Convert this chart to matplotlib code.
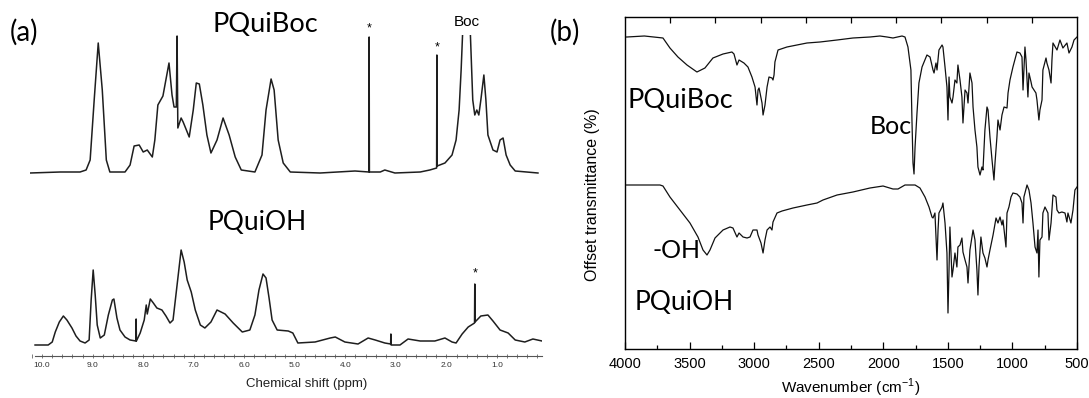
import numpy as np
import matplotlib
matplotlib.use('Agg')
import matplotlib.pyplot as plt
from matplotlib.ticker import MultipleLocator, FormatStrFormatter

# ---- (a) 1H NMR, chemical shift (ppm) vs intensity (arb.) ----
nmr_boc_ppm = [10.24, 9.64, 9.25, 9.13, 9.05, 8.97, 8.89, 8.81, 8.73, 8.66, 8.36, 8.26, 8.18,
               8.08, 8.00, 7.92, 7.82, 7.77, 7.71, 7.61, 7.49, 7.43, 7.39, 7.345, 7.33, 7.315,
               7.25, 7.21, 7.09, 7.01, 6.95, 6.89, 6.82, 6.74, 6.66, 6.54, 6.42, 6.30, 6.18,
               6.06, 5.79, 5.65, 5.57, 5.47, 5.41, 5.33, 5.23, 5.09, 4.50, 3.81, 3.535, 3.53,
               3.525, 3.31, 3.22, 3.02, 2.52, 2.33, 2.195, 2.19, 2.185, 2.03, 1.89, 1.81, 1.75,
               1.71, 1.67, 1.61, 1.53, 1.48, 1.44, 1.40, 1.36, 1.32, 1.26, 1.22, 1.18, 1.08,
               1.00, 0.94, 0.88, 0.82, 0.74, 0.64, 0.19]
nmr_boc_int = [0, 1, 1, 3, 13, 73, 130, 83, 13, 1, 1, 8, 27,
               28, 21, 23, 16, 33, 68, 77, 110, 78, 66, 66, 137, 45,
               55, 51, 36, 63, 90, 89, 68, 38, 20, 33, 55, 38, 16,
               3, 1, 18, 63, 94, 83, 33, 10, 1, 0, 2, 1, 136,
               1, 1, 3, 0, 1, 3, 5, 118, 7, 10, 18, 33, 63,
               103, 153, 213, 143, 73, 58, 63, 58, 73, 98, 73, 38, 23,
               21, 33, 35, 18, 8, 2, 0]

nmr_oh_ppm = [10.14, 9.88, 9.80, 9.74, 9.66, 9.58, 9.51, 9.41, 9.33, 9.25, 9.15, 9.07, 9.03,
              8.99, 8.95, 8.91, 8.85, 8.77, 8.69, 8.61, 8.58, 8.52, 8.46, 8.36, 8.26, 8.145,
              8.14, 8.135, 8.06, 7.98, 7.94, 7.92, 7.86, 7.80, 7.73, 7.63, 7.55, 7.47, 7.41,
              7.33, 7.25, 7.19, 7.13, 7.05, 6.97, 6.87, 6.78, 6.66, 6.54, 6.38, 6.22, 6.04,
              5.89, 5.79, 5.71, 5.63, 5.57, 5.51, 5.45, 5.35, 5.13, 5.04, 4.94, 4.60, 4.30,
              4.20, 4.01, 3.75, 3.55, 3.41, 3.22, 3.105, 3.10, 3.095, 2.92, 2.76, 2.52, 2.23,
              2.03, 1.89, 1.81, 1.69, 1.57, 1.445, 1.44, 1.435, 1.32, 1.18, 1.08, 0.94, 0.78,
              0.64, 0.45, 0.29, 0.11]
nmr_oh_int = [0, 0, 3, 13, 23, 29, 25, 17, 9, 4, 2, 5, 45,
              75, 50, 20, 7, 10, 30, 45, 46, 27, 15, 8, 5, 4,
              26, 4, 12, 25, 40, 31, 46, 42, 37, 35, 29, 22, 25,
              60, 95, 83, 65, 53, 35, 20, 17, 23, 35, 31, 22, 13,
              15, 30, 55, 71, 67, 47, 25, 15, 14, 12, 2, 3, 7,
              8, 3, 1, 7, 5, 2, 1, 11, 0, 0, 6, 4, 4,
              7, 3, 2, 11, 18, 22, 61, 23, 29, 30, 24, 15, 12,
              5, 3, 6, 4]

nmr_ticks = [10.0, 9.0, 8.0, 7.0, 6.0, 5.0, 4.0, 3.0, 2.0, 1.0]
# impurity / solvent lines marked with a star: (ppm, intensity)
star_boc = [(3.53, 145), (2.19, 126)]
star_oh = [(1.44, 72)]

# ---- (b) FTIR, wavenumber vs offset transmittance (arb.) ----
ir_boc_wn = [4000, 3985, 3850, 3706, 3652, 3590, 3520, 3443, 3381, 3319, 3241, 3172, 3156, 3133,
             3117, 3079, 3048, 3017, 2993, 2978, 2970, 2962, 2939, 2931, 2916, 2900, 2885, 2862,
             2854, 2846, 2839, 2815, 2746, 2591, 2490, 2358, 2235, 2103, 2026, 1971, 1925, 1855,
             1832, 1809, 1786, 1778, 1770, 1762, 1754, 1739, 1724, 1700, 1662, 1638, 1615, 1607,
             1592, 1584, 1569, 1545, 1538, 1522, 1507, 1499, 1491, 1484, 1468, 1460, 1445, 1430,
             1422, 1406, 1391, 1383, 1367, 1352, 1344, 1329, 1313, 1305, 1290, 1275, 1267, 1251,
             1236, 1228, 1213, 1197, 1189, 1174, 1158, 1143, 1135, 1120, 1112, 1096, 1081, 1065,
             1042, 1034, 1019, 996, 965, 942, 926, 918, 903, 895, 880, 872, 856, 848, 833, 818,
             810, 795, 787, 771, 764, 740, 733, 717, 701, 694, 686, 655, 632, 609, 578, 562, 539,
             523, 500]
ir_boc_t = [312, 312, 313, 311, 301, 292, 284, 277, 281, 291, 295, 297, 295, 284,
            289, 286, 282, 272, 262, 244, 259, 261, 246, 234, 244, 262, 272, 271,
            269, 274, 287, 299, 302, 306, 307, 309, 311, 312, 313, 312, 311, 313,
            312, 302, 279, 229, 186, 175, 202, 236, 266, 282, 294, 292, 279, 276,
            286, 279, 299, 304, 302, 282, 262, 229, 272, 252, 246, 252, 269, 266,
            284, 269, 252, 226, 259, 256, 246, 276, 266, 242, 219, 202, 182, 174,
            182, 179, 219, 242, 239, 212, 189, 169, 186, 212, 229, 219, 234, 242,
            241, 256, 269, 282, 297, 296, 292, 259, 302, 289, 252, 276, 267, 262, 259, 256,
            249, 229, 239, 249, 279, 291, 286, 279, 266, 289, 306, 299, 309, 301, 306, 296, 302,
            309, 312]

ir_oh_wn = [4000, 3729, 3706, 3652, 3574, 3497, 3435, 3396, 3365, 3342, 3303, 3241, 3187, 3164,
            3133, 3117, 3086, 3055, 3032, 3009, 2978, 2970, 2947, 2931, 2916, 2900, 2885, 2877,
            2862, 2854, 2823, 2784, 2699, 2591, 2513, 2467, 2358, 2235, 2103, 2002, 1925, 1886,
            1832, 1754, 1716, 1677, 1646, 1623, 1615, 1600, 1584, 1576, 1569, 1545, 1538, 1522,
            1507, 1499, 1491, 1484, 1476, 1468, 1460, 1445, 1430, 1422, 1406, 1391, 1383, 1367,
            1352, 1344, 1329, 1313, 1305, 1290, 1275, 1267, 1259, 1244, 1228, 1213, 1197, 1189,
            1174, 1150, 1127, 1112, 1096, 1081, 1073, 1050, 1042, 1027, 1011, 996, 965, 942,
            926, 918, 911, 887, 872, 856, 841, 825, 810, 802, 795, 787, 771, 764, 748, 725,
            717, 701, 694, 686, 663, 655, 640, 617, 593, 578, 570, 547, 531, 516, 500]
ir_oh_t = [164, 164, 163, 152, 139, 126, 112, 99, 94, 99, 111, 119, 122, 121,
           112, 116, 112, 111, 112, 119, 119, 114, 106, 96, 109, 119, 121, 122,
           119, 127, 136, 138, 141, 144, 146, 149, 154, 157, 161, 163, 160, 160,
           164, 164, 161, 152, 142, 132, 131, 136, 89, 119, 136, 142, 146, 126,
           96, 36, 79, 122, 96, 72, 79, 96, 82, 102, 104, 111, 97, 89,
           82, 66, 99, 112, 119, 109, 79, 54, 82, 112, 96, 91, 82, 89,
           99, 114, 131, 126, 132, 124, 129, 102, 136, 142, 152, 156, 155, 152,
           146, 126, 152, 164, 159, 146, 126, 102, 96, 119, 72, 109, 112, 136, 142, 136,
           109, 126, 139, 154, 152, 139, 136, 137, 136, 127, 136, 126, 139, 159, 162]

W, H = 1089, 398


def px_box(left, top, right, bottom):
    return [left / W, 1 - bottom / H, (right - left) / W, (bottom - top) / H]


def fig_text(fig, x, y, s, **kw):
    fig.text(x / W, 1 - y / H, s, **kw)


calibri_like = ['Lato', 'DejaVu Sans']
arial_like = ['Liberation Sans', 'DejaVu Sans']

fig = plt.figure(figsize=(W / 100, H / 100), dpi=100)

# (a) top trace: its own axes so the Boc peak is clipped at the top
ax_t = fig.add_axes(px_box(30, 35, 542, 180))
ax_t.plot(nmr_boc_ppm, nmr_boc_int, color='#1e1e1e', lw=1.1)
ax_t.set_xlim(10.24, 0.11)
ax_t.set_ylim(-7, 138)
ax_t.axis('off')
for ppm, h in star_boc:
    ax_t.text(ppm, h, '*', ha='center', va='center', fontsize=9, family=arial_like,
              clip_on=False)

ax_b = fig.add_axes(px_box(30, 240, 542, 356))
ax_b.plot(nmr_oh_ppm, nmr_oh_int, color='#1e1e1e', lw=1.1)
ax_b.set_xlim(10.24, 0.11)
ax_b.set_ylim(-11, 105)
for s in ['top', 'left', 'right']:
    ax_b.spines[s].set_visible(False)
ax_b.spines['bottom'].set_bounds(10.14, 0.11)
ax_b.spines['bottom'].set_color('#555555')
ax_b.set_yticks([])
ax_b.set_xticks(nmr_ticks)
ax_b.xaxis.set_major_formatter(FormatStrFormatter('%.1f'))
ax_b.xaxis.set_minor_locator(MultipleLocator(0.2))
ax_b.tick_params(axis='x', which='both', direction='inout', length=3, width=0.6,
                 color='#666666', labelsize=6, labelcolor='#333333', pad=3)
for lab in ax_b.get_xticklabels():
    lab.set_family(arial_like)
for ppm, h in star_oh:
    ax_b.text(ppm, h, '*', ha='center', va='center', fontsize=9, family=arial_like)

fig_text(fig, 307, 384, 'Chemical shift (ppm)', ha='center', va='center', fontsize=9.5,
         family=arial_like, color='#222222')
fig_text(fig, 24, 32, '(a)', ha='center', va='center', fontsize=20, family=calibri_like)
fig_text(fig, 265, 25, 'PQuiBoc', ha='center', va='center', fontsize=19.5, family=calibri_like)
fig_text(fig, 257, 222, 'PQuiOH', ha='center', va='center', fontsize=19, family=calibri_like)
fig_text(fig, 467, 22, 'Boc', ha='center', va='center', fontsize=11, family=arial_like)

# (b) FTIR
ax_ir = fig.add_axes(px_box(625, 17, 1077, 349))
ax_ir.plot(ir_boc_wn, ir_boc_t, color='#111111', lw=0.9)
ax_ir.plot(ir_oh_wn, ir_oh_t, color='#111111', lw=0.9)
ax_ir.set_xlim(4000, 500)
ax_ir.set_ylim(0, 332)
ax_ir.set_yticks([])
ax_ir.xaxis.set_major_locator(MultipleLocator(500))
ax_ir.xaxis.set_minor_locator(MultipleLocator(250))
ax_ir.tick_params(axis='x', which='major', direction='in', length=5, width=0.9, pad=6,
                  labelsize=10.5)
ax_ir.tick_params(axis='x', which='minor', direction='in', length=3, width=0.9)
for lab in ax_ir.get_xticklabels():
    lab.set_family(arial_like)
for s in ax_ir.spines.values():
    s.set_linewidth(1.0)
    s.set_color('#333333')

# top axis: ten equal divisions, no labels
ax_top = ax_ir.twiny()
ax_top.set_xlim(0, 10)
ax_top.set_xticks(np.arange(1, 10))
ax_top.tick_params(axis='x', direction='in', length=4, width=0.9, labeltop=False)

fig_text(fig, 851, 388, 'Wavenumber (cm$^{\\mathregular{-1}}$)', ha='center', va='center',
         fontsize=11, family=arial_like)
fig_text(fig, 593, 195, 'Offset transmittance (%)', rotation=90, ha='center', va='center',
         fontsize=11.5, family=arial_like)
fig_text(fig, 565, 32, '(b)', ha='center', va='center', fontsize=20, family=calibri_like)
fig_text(fig, 628, 100, 'PQuiBoc', ha='left', va='center', fontsize=19.5, family=calibri_like)
fig_text(fig, 870, 127, 'Boc', ha='left', va='center', fontsize=18, family=calibri_like)
fig_text(fig, 653, 250, '-OH', ha='left', va='center', fontsize=18, family=calibri_like)
fig_text(fig, 635, 302, 'PQuiOH', ha='left', va='center', fontsize=19, family=calibri_like)

plt.savefig('out.png', dpi=100)
plt.close('all')
